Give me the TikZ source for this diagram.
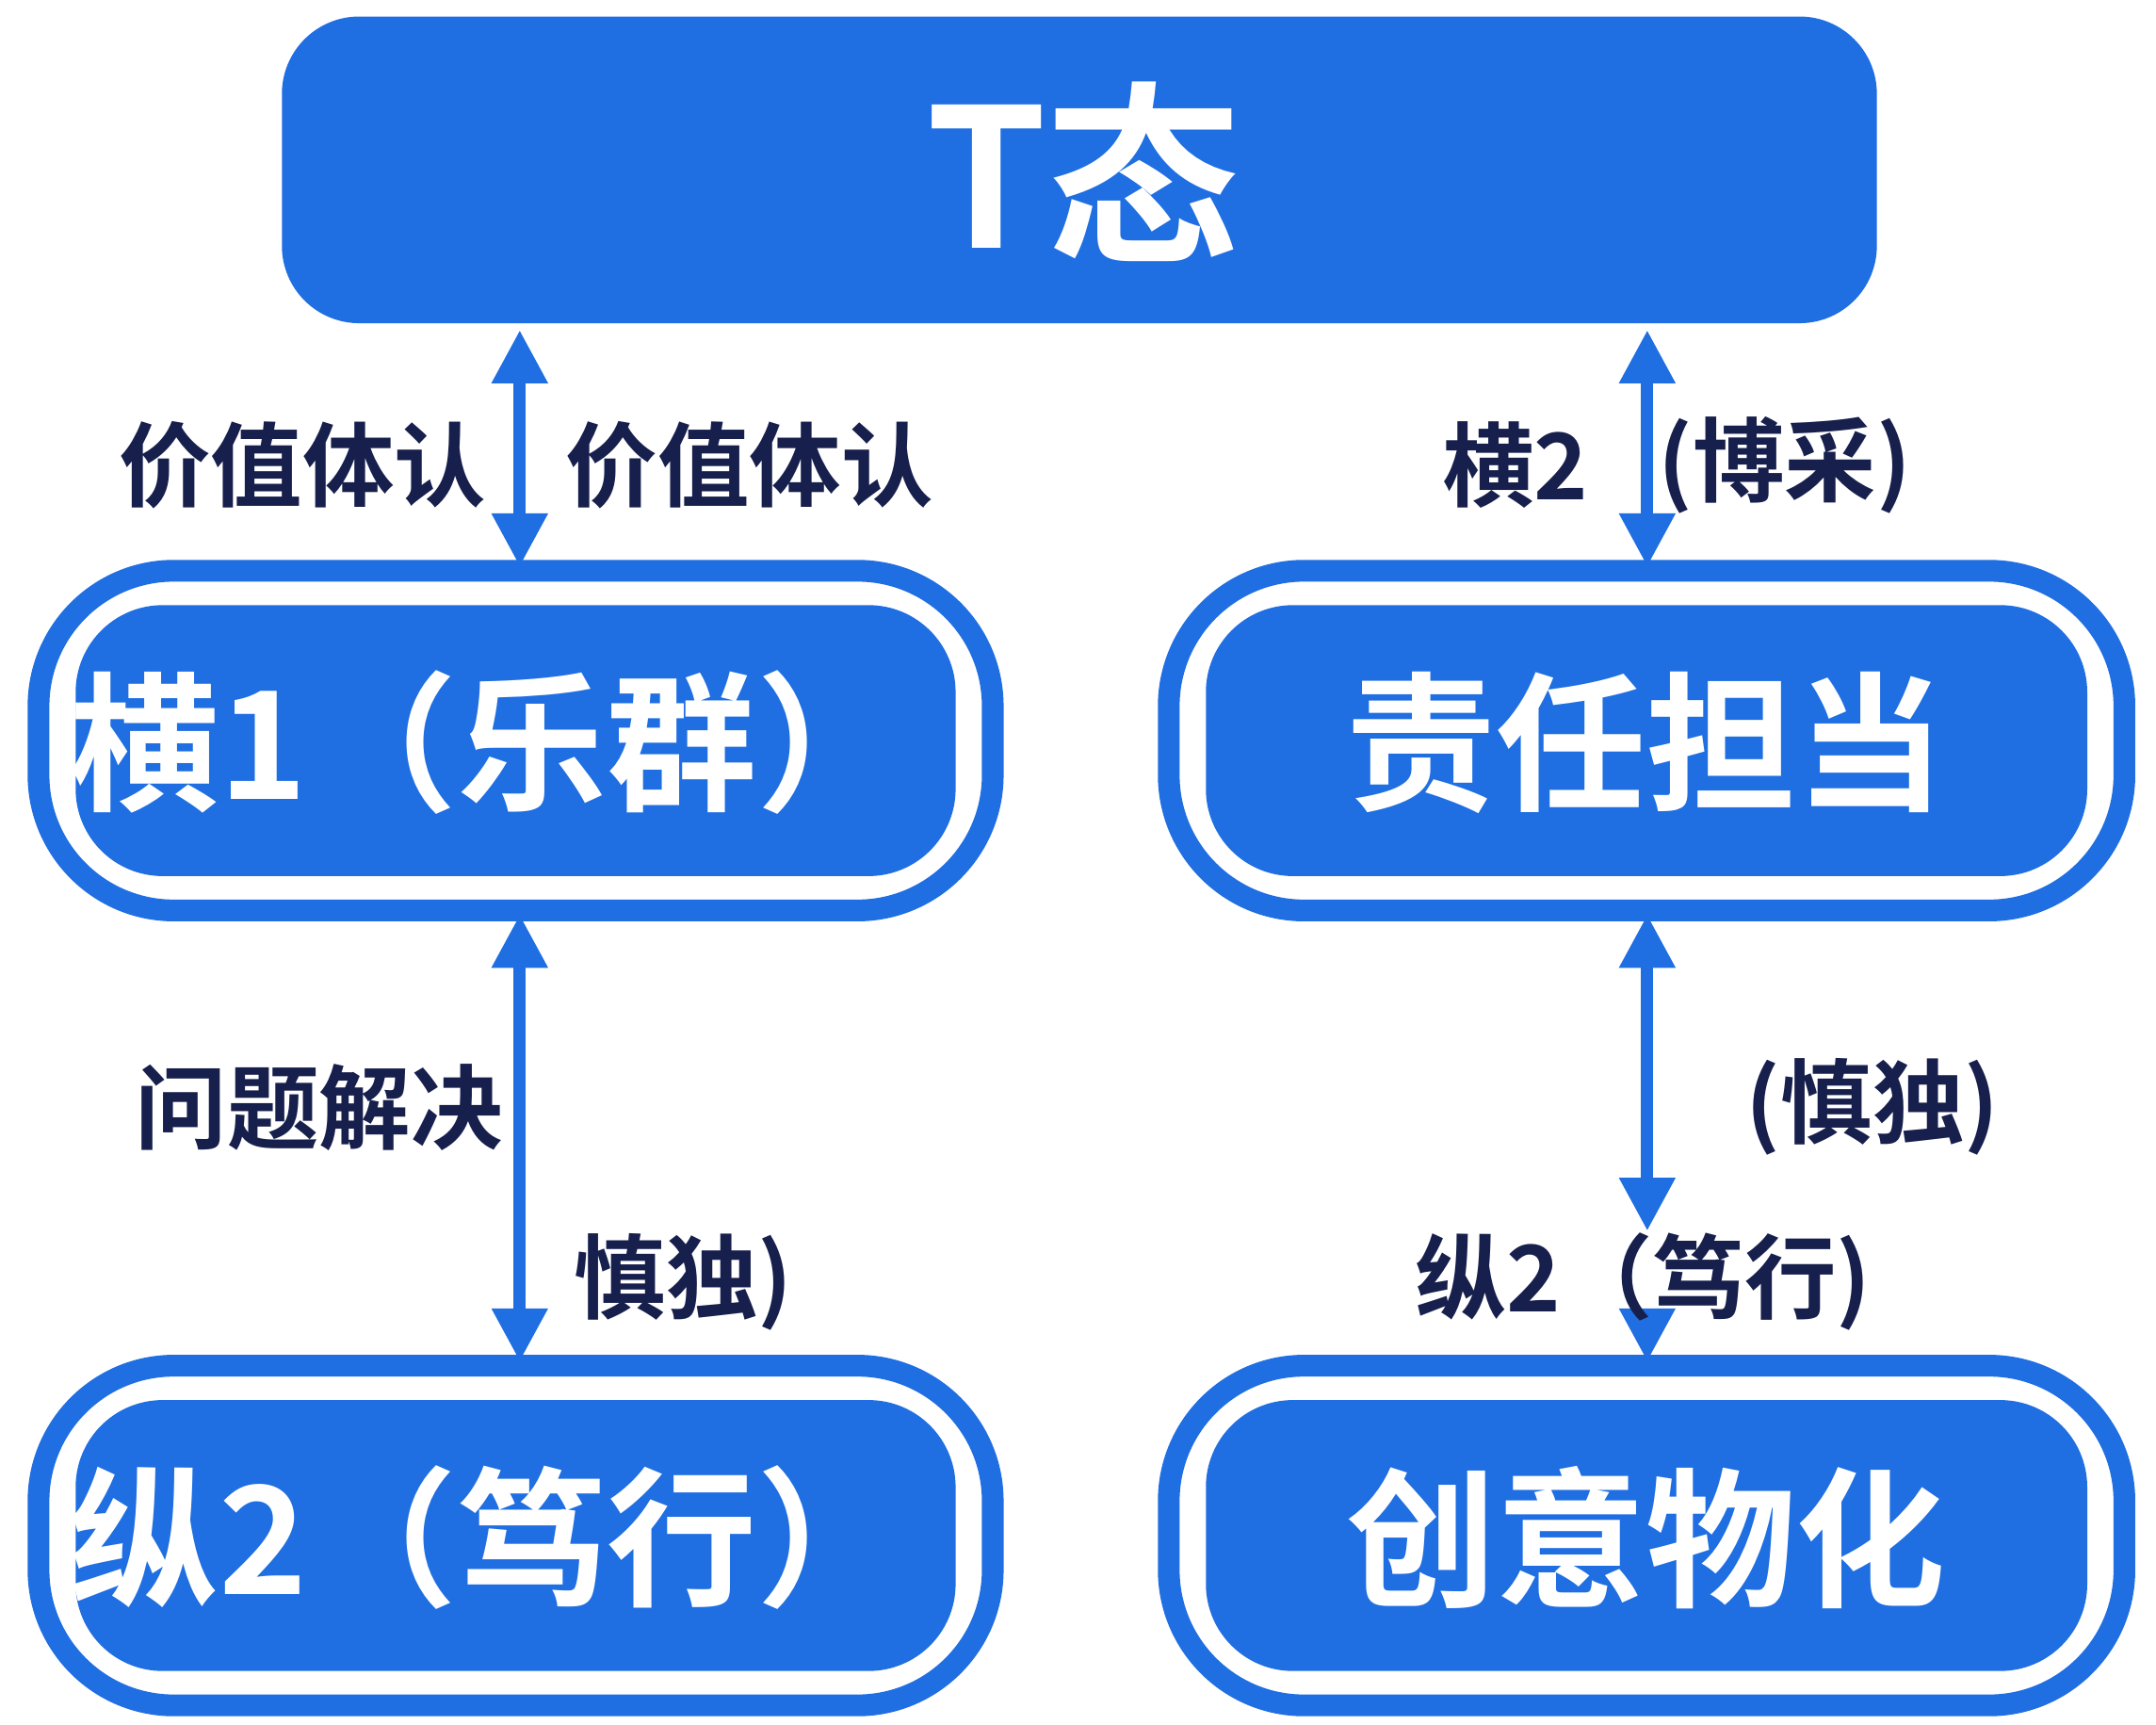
\documentclass[tikz,border=0pt]{standalone}
\usepackage{fontspec}
\newfontfamily\cjk{Noto Sans CJK SC Bold}
\usetikzlibrary{arrows.meta}
\definecolor{bl}{HTML}{1F6FE3}
\definecolor{nv}{HTML}{17204D}
\begin{document}
\begin{tikzpicture}[x=0.01cm,y=-0.01cm,
 outer/.style={draw=bl,line width=4.5pt,rounded corners=28pt,fill=white},
 inner/.style={fill=bl,rounded corners=18pt},
 btxt/.style={text=white,font=\cjk\fontsize{31}{34}\selectfont},
 lbl/.style={text=nv,font=\cjk\fontsize{19}{22}\selectfont},
 arr/.style={draw=bl,line width=2.5pt,{Triangle[width=11pt,length=11pt]}-{Triangle[width=11pt,length=11pt]}},
 arr1/.style={draw=bl,line width=2.5pt,-{Triangle[width=11pt,length=11pt]}}]
\useasboundingbox[fill=white] (0,0) rectangle (1568,1254);
\fill[bl,rounded corners=16pt] (205,12) rectangle (1365,235);
\node[text=white,font=\cjk\fontsize{40}{44}\selectfont] (T) at (788,125) {T态};
\draw[outer] (28,415) rectangle (722,662);
\fill[inner] (55,440) rectangle (695,637);
\node[btxt] (A) at (355,540) {横1（乐群）};
\draw[outer] (850,415) rectangle (1545,662);
\fill[inner] (877,440) rectangle (1518,637);
\node[btxt] (B) at (1197,540) {责任担当};
\draw[outer] (28,993) rectangle (722,1240);
\fill[inner] (55,1018) rectangle (695,1215);
\node[btxt] (C) at (355,1118) {纵2（笃行）};
\draw[outer] (850,993) rectangle (1545,1240);
\fill[inner] (877,1018) rectangle (1518,1215);
\node[btxt] (D) at (1197,1118) {创意物化};
\coordinate (a1) at (378,240); \coordinate (a2) at (378,412);
\coordinate (b1) at (1198,240); \coordinate (b2) at (1198,412);
\coordinate (c1) at (378,665); \coordinate (c2) at (378,990);
\coordinate (d1) at (1198,665); \coordinate (d2) at (1198,895);
\coordinate (e1) at (1198,955); \coordinate (e2) at (1198,990);
\draw[arr] (a1) -- (a2);
\draw[arr] (b1) -- (b2);
\draw[arr] (c1) -- (c2);
\draw[arr] (d1) -- (d2);
\draw[arr1] (e1) -- (e2);
\node[lbl] (l1) at (220,338) {价值体认};
\node[lbl] (l2) at (545,338) {价值体认};
\node[lbl] (l3) at (1102,338) {横2};
\node[lbl] (l4) at (1298,338) {(博采)};
\node[lbl] (l5) at (232,805) {问题解决};
\node[lbl] (l6) at (497,932) {慎独)};
\node[lbl] (l7) at (1362,805) {(慎独)};
\node[lbl] (l8) at (1195,932) {纵2（笃行)};
\end{tikzpicture}
\end{document}
